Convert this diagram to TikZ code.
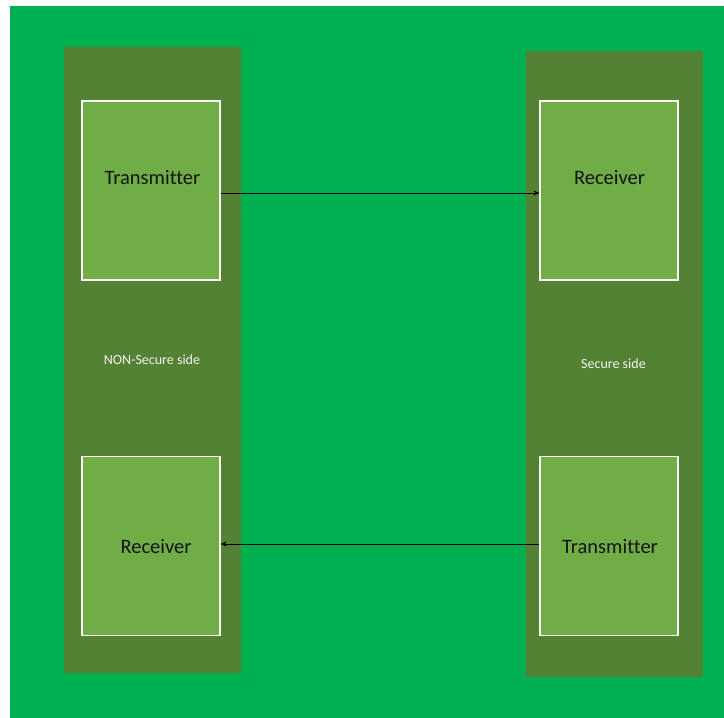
\documentclass[tikz,border=0pt]{standalone}
\usepackage{fontspec}
\setmainfont{Carlito}[Ligatures=NoCommon]
\usetikzlibrary{arrows.meta}
\definecolor{bggreen}{HTML}{00B050}
\definecolor{sidegreen}{HTML}{548235}
\definecolor{boxgreen}{HTML}{70AD47}
\definecolor{boxtext}{HTML}{141414}
\begin{document}
\begin{tikzpicture}[x=1pt,y=-1pt,
  side/.style={fill=sidegreen, draw=none, minimum width=177pt, minimum height=626pt, inner sep=0pt},
  unit/.style={fill=boxgreen, draw=white, line width=1.2pt, minimum width=138pt, minimum height=179pt, inner sep=0pt},
  unitlabel/.style={text=boxtext, font=\fontsize{20.5}{24}\selectfont, inner sep=0pt},
  sidelabel/.style={text=white!95!black, font=\fontsize{14}{17}\selectfont, inner sep=0pt},
  link/.style={draw=black, line width=0.8pt, -{Stealth[length=6pt,width=5pt]}}]
  % page and background
  \useasboundingbox (0,0) rectangle (724,718);
  \fill[bggreen] (10,6) rectangle (724,718);

  % the two sides
  \node[side] (left)  at (152.5,360) {};
  \node[side] (right) at (614.5,364) {};
  \node[sidelabel] (leftlabel)  at (152,360) {NON-Secure side};
  \node[sidelabel] (rightlabel) at (613.5,364) {Secure side};

  % units on each side
  \node[unit] (txA) at (151,190.5) {};
  \node[unit] (rxB) at (609,190.5) {};
  \node[unit] (rxA) at (151,546) {};
  \node[unit] (txB) at (609,546) {};

  \node[unitlabel] (txAlabel) at (152.5,178) {Transmitter};
  \node[unitlabel] (rxBlabel) at (609.5,178) {Receiver};
  \node[unitlabel] (rxAlabel) at (156,547) {Receiver};
  \node[unitlabel] (txBlabel) at (610,547) {Transmitter};

  % links between the sides
  \draw[link] ([yshift=-2.5pt]txA.east) -- ([yshift=-2.5pt]rxB.west);
  \draw[link] ([yshift=2pt]txB.west) -- ([yshift=2pt]rxA.east);
\end{tikzpicture}
\end{document}
